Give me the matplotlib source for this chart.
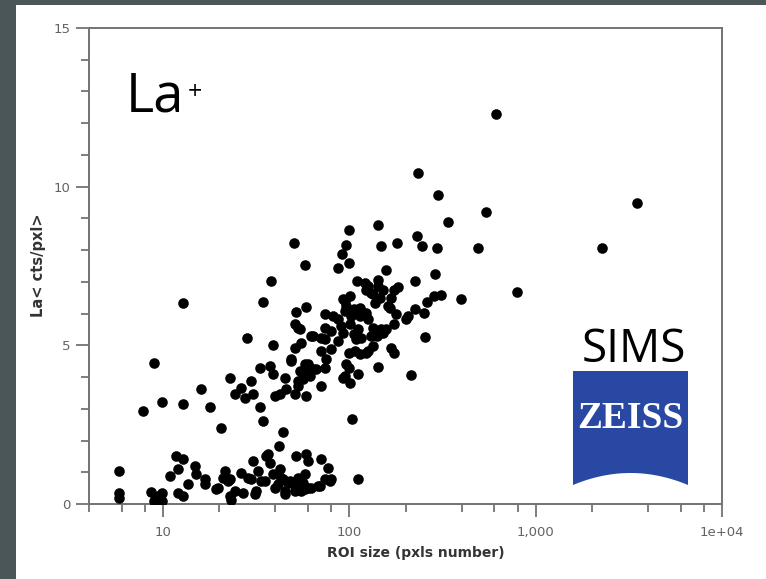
import matplotlib
matplotlib.use("Agg")
import matplotlib.pyplot as plt
from matplotlib.patches import Rectangle, Polygon
from matplotlib.ticker import LogLocator, MultipleLocator
import numpy as np

# low band of ROIs (La close to background)
low_x = [5.8, 5.8, 5.8, 8.6, 8.9, 9.4, 9.9, 9.9, 11.7, 12.8, 12.0, 10.9, 14.9, 15.1,
         13.6, 12.0, 12.8, 16.8, 16.8, 19.8, 21.0, 21.5, 22.4, 22.9, 23.2, 24.4, 19.3,
         22.9, 26.3, 28.6, 26.9, 30.5, 29.7, 32.4, 35.8, 37.6, 33.6, 31.6, 31.2, 39.0,
         42.6, 44.2, 40.0, 45.3, 47.0, 51.3, 51.9, 58.7, 60.2, 58.0, 56.6, 60.2, 70.7,
         77.1, 74.3, 68.1, 80.0, 55.2, 62.5, 53.2, 48.2, 36.7, 42.0, 44.2, 111.7, 34.5,
         20.5, 45.3, 41.5, 51.3, 58.0, 69.5, 79.0, 35.2, 43.1]
low_y = [1.04, 0.35, 0.19, 0.38, 0.10, 0.24, 0.35, 0.08, 1.52, 1.42, 1.11, 0.88, 1.20, 0.95,
         0.63, 0.35, 0.25, 0.79, 0.63, 0.51, 0.82, 1.04, 0.73, 0.25, 0.12, 0.41, 0.47,
         0.79, 0.98, 0.82, 0.35, 1.36, 0.79, 1.04, 1.52, 1.29, 0.73, 0.41, 0.30, 0.95,
         1.11, 0.79, 0.51, 0.41, 0.66, 0.57, 1.52, 1.58, 1.36, 0.95, 0.66, 0.51, 1.42,
         1.14, 0.79, 0.57, 0.79, 0.41, 0.51, 0.82, 0.73, 1.58, 1.83, 2.27, 0.79, 2.62,
         2.40, 0.32, 0.63, 0.41, 0.48, 0.57, 0.73, 0.73, 0.82]

# main cloud
main_x = [12.8, 38.0, 58.0, 34.5, 58.7, 51.9, 28.3, 39.0, 8.9, 16.0, 22.9, 29.7, 26.3,
          24.4, 27.6, 30.5, 9.9, 12.8, 17.9, 7.8, 33.2, 33.2, 37.6, 39.0, 45.3, 48.8,
          40.0, 42.6, 45.9, 51.3, 58.7, 70.7, 51.3, 53.2, 55.2, 51.3, 62.5, 54.5, 58.0,
          53.2, 56.6, 61.7, 66.5, 74.3, 82.0, 87.3, 74.3, 74.3, 70.7, 80.0, 87.3, 75.2,
          74.3, 87.3, 92.8, 96.2, 95.1, 50.6, 100, 141.5, 336.5, 96.2, 91.7, 98.9, 148.6,
          179.1, 229.2, 243.9, 293.8, 487.9, 158.1, 110.4, 121.9, 143.2, 141.5, 123.4,
          134.6, 146.8, 226.3, 286.7, 183.4, 172.5, 168.1, 308.3, 283, 262.4, 395.7,
          101.2, 95.1, 226.3, 250, 207.4, 202.3, 166, 176.8, 172.5, 138, 114.5, 114.5,
          126.5, 95.1, 102.5, 101.2, 111.7, 105.2, 109.1, 90.6, 92.8, 134.6, 148.6,
          158.1, 131.2, 134.6, 123.4, 114.5, 54.5, 64.0, 70.7, 48.8, 60.2, 98.9, 96.2,
          98.9, 168.1, 172.5, 253, 143.2, 111.7, 92.8, 101.2, 58.0, 53.2, 215.3, 103.8,
          126.5, 152, 105.2, 123.4, 162, 116, 152, 140, 107, 126.5, 80, 64, 131]
main_y = [6.32, 7.04, 7.52, 6.35, 6.22, 6.06, 5.24, 5.02, 4.45, 3.63, 3.98, 3.88, 3.66,
          3.47, 3.35, 3.47, 3.22, 3.16, 3.06, 2.93, 3.06, 4.29, 4.36, 4.10, 3.98, 4.52,
          3.41, 3.47, 3.63, 3.47, 3.41, 3.73, 5.68, 5.56, 5.08, 4.93, 5.30, 4.20, 4.42,
          3.88, 3.95, 4.04, 4.26, 6.00, 5.94, 5.84, 5.56, 5.21, 4.83, 4.89, 5.15, 4.58,
          4.29, 7.45, 6.47, 6.25, 4.04, 8.21, 8.65, 8.78, 8.90, 8.15, 7.89, 7.61, 8.12,
          8.21, 8.46, 8.12, 8.08, 8.08, 7.36, 7.04, 6.98, 7.07, 6.88, 6.73,
          6.63, 6.50, 7.04, 7.26, 6.85, 6.73, 6.50, 6.60, 6.57, 6.38, 6.47,
          6.57, 6.41, 6.16, 6.03, 5.94, 5.84, 6.19, 6.00, 5.68, 6.32, 6.19, 5.94,
          5.84, 6.09, 5.94, 5.68, 5.53, 5.37, 5.21, 5.62, 5.40, 5.56, 5.53,
          5.53, 5.30, 4.99, 4.77, 4.74, 5.53, 5.30, 5.24, 4.58, 4.42, 4.77, 4.42,
          4.29, 4.93, 4.77, 5.27, 4.33, 4.10, 3.98, 3.82, 4.14, 3.73, 4.07, 2.68,
          6.88, 6.73, 6.16, 6.03, 6.25, 5.24, 5.40, 5.30, 4.83, 4.83, 5.46, 4.26, 6.66]

# large ROIs / outliers
big_x = [3490, 2260, 790, 610, 538, 300, 232]
big_y = [9.50, 8.08, 6.69, 12.28, 9.19, 9.73, 10.42]

xtick_vals = [10, 100, 1000, 10000]
xtick_labels = ["10", "100", "1,000", "1e+04"]
ytick_vals = [0, 5, 10, 15]

W, H = 766, 579
fig = plt.figure(figsize=(W / 100, H / 100), dpi=100)
fig.patch.set_facecolor("#4a5658")

# white panel
fig.add_artist(Rectangle((16 / W, 0), 1 - 16 / W, 1 - 5 / H, transform=fig.transFigure,
                         facecolor="white", edgecolor="none", zorder=0))

ax = fig.add_axes([89 / W, 1 - 504 / H, (722 - 89) / W, (504 - 28) / H])
ax.set_facecolor("white")

xs = np.array(low_x + main_x + big_x)
ys = np.array(low_y + main_y + big_y)
ax.scatter(xs, ys, s=58, c="black", linewidths=0, zorder=3)

ax.set_xscale("log")
ax.set_xlim(4, 10000)
ax.set_ylim(0, 15)

ax.set_xticks(xtick_vals, labels=xtick_labels)
ax.xaxis.set_minor_locator(LogLocator(base=10, subs=(2, 4, 6, 8)))
ax.xaxis.set_minor_formatter(plt.NullFormatter())
ax.set_yticks(ytick_vals)
ax.yaxis.set_minor_locator(MultipleLocator(1))

spine_col = "#737373"
for sp in ax.spines.values():
    sp.set_color(spine_col)
    sp.set_linewidth(1.4)
ax.tick_params(which="major", direction="out", length=9.5, width=1.3, color=spine_col,
               labelsize=9.5, labelcolor="#626262")
ax.tick_params(which="minor", direction="out", length=5.8, width=1.3, color=spine_col)
ax.tick_params(axis="x", which="major", pad=6)
ax.tick_params(axis="y", which="major", pad=4)

ax.set_xlabel("ROI size (pxls number)", fontsize=10, fontweight="bold", color="#333333")
ax.xaxis.set_label_coords((416 - 89) / 633, (504 - 553) / 476)
ax.xaxis.label.set_va("center")
ax.set_ylabel("La< cts/pxl>", fontsize=10.5, fontweight="bold", color="#333333")
ax.yaxis.set_label_coords((39 - 89) / 633, (504 - 265) / 476)
ax.yaxis.label.set_va("center")

# element label
fig.text(126 / W, 1 - 112 / H, "La", fontsize=39, family="Open Sans", va="baseline",
         color="black")
fig.text(195 / W, 1 - 89 / H, "+", fontsize=18, family="Open Sans", ha="center",
         va="center_baseline", color="black")

# SIMS + logo
fig.text(582 / W, 1 - 362 / H, "SIMS", fontsize=33, family="Open Sans", va="baseline",
         color="black")
logo_blue = "#2848a4"
t = np.linspace(0, 1, 40)
arc_x = 688 - t * (688 - 573)
arc_y = 485 - 12 * (1 - (2 * t - 1) ** 2)
pts = [(573, 371), (688, 371)] + list(zip(arc_x, arc_y))
pts = [(px / W, 1 - py / H) for px, py in pts]
fig.add_artist(Polygon(pts, closed=True, transform=fig.transFigure,
                       facecolor=logo_blue, edgecolor="none", zorder=5))
fig.text(630.5 / W, 1 - 428 / H, "ZEISS", fontsize=27, family="Liberation Serif",
         fontweight="bold", color="white", ha="center", va="baseline", zorder=6)

fig.savefig("out.png", dpi=100, facecolor=fig.get_facecolor())
